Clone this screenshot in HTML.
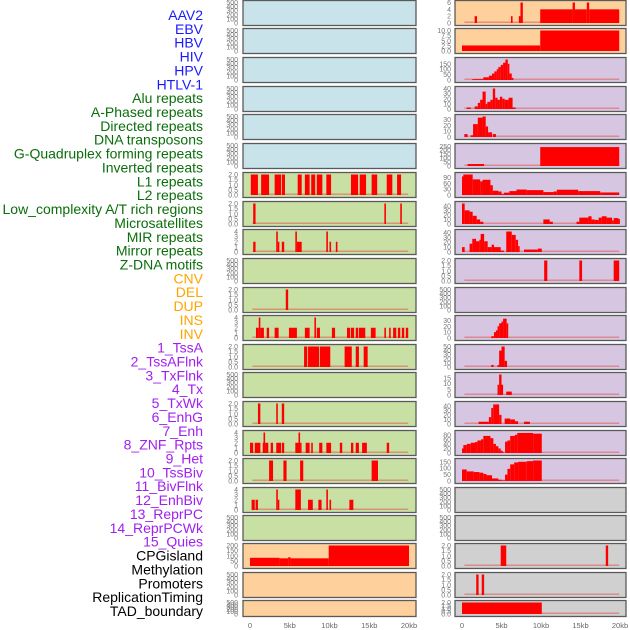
<!DOCTYPE html>
<html><head><meta charset="utf-8">
<style>
html,body{margin:0;padding:0;background:#fff;}
svg{display:block;font-family:"Liberation Sans",sans-serif;}
</style></head>
<body>
<svg id="chart" width="630" height="630" viewBox="0 0 630 630"></svg>
<script>
const labels = ["AAV2","EBV","HBV","HIV","HPV","HTLV-1","Alu repeats","A-Phased repeats","Directed repeats","DNA transposons","G-Quadruplex forming repeats","Inverted repeats","L1 repeats","L2 repeats","Low_complexity A/T rich regions","Microsatellites","MIR repeats","Mirror repeats","Z-DNA motifs","CNV","DEL","DUP","INS","INV","1_TssA","2_TssAFlnk","3_TxFlnk","4_Tx","5_TxWk","6_EnhG","7_Enh","8_ZNF_Rpts","9_Het","10_TssBiv","11_BivFlnk","12_EnhBiv","13_ReprPC","14_ReprPCWk","15_Quies","CPGisland","Methylation","Promoters","ReplicationTiming","TAD_boundary"];
const labelGroups = [6,13,5,15,5];
const groupColors = ["#1a1aff","#0a6e0a","#ffa500","#a020f0","#000000"];
const xTicks = [0,5,10,15,20];
const xTickLabels = ["0","5kb","10kb","15kb","20kb"];
const leftBg = ["b","b","b","b","b","b","g","g","g","g","g","g","g","g","g","g","g","g","g","p","p","p"];
const rightBg = ["p","p","l","l","l","l","l","l","l","l","l","l","l","l","l","l","l","y","y","y","y","y"];
const leftMax = [500,500,500,500,500,500,2,2,4,500,2,4,2,500,2,4,2,4,500,200,500,500];
const rightMax = [6,10,190,40,35,260,105,45,42,2,500,35,50,18,45,90,160,500,500,2,2,2];
const leftTicks = [[0,100,200,300,400,500],[0,100,200,300,400,500],[0,100,200,300,400,500],[0,100,200,300,400,500],[0,100,200,300,400,500],[0,100,200,300,400,500],[0,0.5,1,1.5,2],[0,0.5,1,1.5,2],[0,1,2,3,4],[0,100,200,300,400,500],[0,0.5,1,1.5,2],[0,1,2,3,4],[0,0.5,1,1.5,2],[0,100,200,300,400,500],[0,0.5,1,1.5,2],[0,1,2,3,4],[0,0.5,1,1.5,2],[0,1,2,3,4],[0,100,200,300,400,500],[0,50,100,150,200],[0,100,200,300,400,500],[0,100,200,300,400,500]];
const rightTicks = [[0,2,4,6],[0,2.5,5,7.5,10],[0,50,100,150],[0,10,20,30,40],[0,10,20,30],[0,50,100,150,200,250],[0,30,60,90],[0,10,20,30,40],[0,10,20,30,40],[0,0.5,1,1.5,2],[0,100,200,300,400,500],[0,10,20,30],[0,10,20,30,40,50],[0,5,10,15],[0,10,20,30,40],[0,20,40,60,80],[0,50,100,150],[0,100,200,300,400,500],[0,100,200,300,400,500],[0,0.5,1,1.5,2],[0,0.5,1,1.5,2],[0,0.5,1,1.5,2]];
const leftSegs = [[],[],[],[],[],[],
[[0.1,1,2],[1.4,2.4,2],[3.1,3.9,2],[4,4.4,2],[6,6.5,2],[6.9,7.5,2],[7.7,8.2,2],[8.4,9.1,2],[9.6,10.2,2],[12.7,13.6,2],[13.8,14.6,2],[15.3,16,2],[17.2,17.9,2],[18.5,19,2]],
[[0.4,0.7,2],[16.9,17.1,2],[18.9,19.1,2]],
[[0.4,0.7,2],[3.3,3.5,4],[3.5,3.6,2],[4,4.3,2],[5.7,5.9,4],[5.9,6.5,2],[9.6,9.8,4],[10,10.2,2],[10.8,11,2]],
[],
[[4.5,4.8,2]],
[[0.75,1.1,2],[1.1,1.3,4],[1.3,1.75,2],[2.1,2.4,2],[3.1,3.6,2],[4.9,5.9,2],[6.9,7.5,2],[8.1,8.3,4],[8.4,8.8,2],[10.3,10.7,2],[12.2,12.6,2],[12.7,13.1,2],[13.3,13.6,2],[13.7,14.5,2],[15.2,15.8,2],[16.9,17.1,2],[17.5,17.7,2],[18,18.4,2],[18.6,18.9,2],[19.1,19.4,2],[19.6,19.9,2]],
[[6.8,7.2,2],[7.3,8.7,2],[8.8,10.1,2],[11.9,12.8,2],[13.3,13.7,2],[14.3,14.8,2]],
[],
[[1,1.3,2],[3.3,3.5,2],[4,4.3,2]],
[[0,0.4,2],[0.6,1.3,2],[1.6,1.7,2],[1.7,1.9,4],[1.9,2.3,2],[2.6,2.9,2],[3.3,3.9,2],[4,4.3,2],[5.7,6.1,2],[6.1,6.3,4],[6.3,6.4,2],[7,7.5,2],[7.7,7.9,2],[8.7,9.1,2],[9.6,10.2,2],[11.3,11.6,2],[12.7,13,2],[13.3,13.7,2],[14.1,14.7,2],[17.2,17.5,2]],
[[2.4,2.9,2],[4.2,4.6,2],[6.3,6.7,2],[15.3,16.1,2]],
[[0.2,0.6,2],[0.7,1,2],[3.3,3.5,4],[3.5,3.6,2],[5.7,6.4,4],[7.3,7.9,2],[8.6,9,2],[9.6,9.8,4],[10,10.2,2],[12.5,13,2]],
[],
[[0,3.7,80],[3.7,4.8,75],[4.8,5.1,85],[5.1,9.9,75],[9.9,20,200]],
[],[]];
const rightSegs = [
[[1.6,1.9,2],[6.2,6.4,2],[7.2,7.4,2],[7.4,7.7,6],[9.9,14,4],[14,14.3,6],[14.3,15.8,4],[15.8,16.1,6],[16.1,19.9,4]],
[[0,9.9,2.7],[9.9,19.9,10]],
[[1.3,2.7,8],[2.7,3.4,25],[3.4,3.8,40],[3.8,4.1,60],[4.1,4.4,80],[4.4,4.6,100],[4.6,4.9,120],[4.9,5.2,140],[5.2,5.5,160],[5.5,5.8,190],[5.8,6.0,150],[6.0,6.3,60],[6.3,6.5,20]],
[[0.6,1.1,3],[1.6,2,5],[2,2.3,12],[2.3,2.6,18],[2.6,3,34],[3,3.2,10],[3.2,3.6,14],[3.6,3.9,18],[3.9,4.2,40],[4.2,4.5,22],[4.5,4.8,18],[4.8,5.1,24],[5.1,5.4,20],[5.4,5.9,18],[5.9,6.4,22],[6.4,6.8,3]],
[[0.3,0.7,5],[1.1,1.4,3],[1.4,2,22],[2,2.6,33],[2.6,3,35],[3,3.3,18],[3.3,3.8,8],[3.9,4.3,5]],
[[0.7,2.8,25],[9.9,19.9,240]],
[[0,0.17,95],[0.17,1.35,105],[1.35,2.3,80],[2.3,2.6,70],[2.6,3.6,78],[3.6,3.9,50],[3.9,4.6,22],[4.6,5,18],[5,5.3,5],[5.3,6,12],[6,6.9,20],[6.9,8.2,28],[8.2,10.3,25],[10.3,11.6,15],[11.6,12,18],[12,14.7,27],[14.7,17.5,20],[17.5,19.9,13]],
[[0,0.34,45],[0.34,0.96,30],[0.96,1.35,27],[1.35,1.86,18],[1.86,2.3,10],[2.3,2.7,5],[10.3,11.1,10],[11.1,11.5,5],[14.5,14.85,5],[14.85,16,14],[16,16.4,17],[16.4,16.8,10],[16.8,17.3,9],[17.3,17.7,14],[17.7,18.3,17],[18.3,19,14],[19,19.2,8],[19.2,19.8,13],[19.8,19.9,11]],
[[0,0.34,10],[0.96,1.3,17],[1.3,1.77,27],[1.77,2.2,22],[2.2,2.36,25],[2.36,2.8,37],[2.8,3.25,22],[3.25,3.75,10],[3.75,4.05,15],[4.05,4.9,10],[4.9,5.3,3],[5.6,6.3,42],[6.3,6.8,35],[6.8,7.1,25],[7.1,7.3,12],[7.85,9.6,5],[9.6,10.1,7]],
[[10.4,10.8,2],[14.85,15.2,2],[19.2,19.9,2]],
[],
[[3.7,4.05,3],[4.05,4.3,10],[4.3,4.5,13],[4.5,4.7,20],[4.7,5,25],[5,5.2,28],[5.2,5.65,33],[5.65,5.85,25]],
[[3.7,4,5],[4.5,4.7,5],[4.7,5,40],[5,5.4,50],[5.4,5.7,15]],
[[4.5,4.7,9],[4.7,5,18],[5,5.2,9],[5.6,6.3,3]],
[[2.1,3.4,5],[3.4,3.7,15],[3.7,3.95,35],[3.95,4.7,43],[4.7,5,20],[5.4,6.1,12],[6.1,6.7,10],[6.7,7.1,6],[7.85,8.6,5]],
[[0,0.17,20],[0.17,0.6,35],[0.6,1.1,40],[1.1,1.65,45],[1.65,1.95,48],[1.95,2.4,55],[2.4,2.7,60],[2.7,3.6,75],[3.6,3.97,65],[3.97,4.3,40],[4.3,4.6,30],[4.6,4.9,20],[4.9,5.15,10],[5.15,5.35,3],[5.45,5.75,50],[5.75,6.1,55],[6.1,6.7,75],[6.7,7,80],[7,9,88],[9,10.1,85]],
[[0,0.6,90],[0.6,1.5,75],[1.5,2.2,70],[2.2,2.7,65],[2.7,3.1,55],[3.1,3.8,45],[3.8,4.6,20],[4.6,5,10],[5,5.45,5],[5.45,5.75,50],[5.75,6.1,95],[6.1,6.6,130],[6.6,7.1,145],[7.1,8.2,150],[8.2,9,155],[9,10.1,160]],
[],[],
[[4.9,5.6,2],[18.2,18.5,2]],
[[1.8,2.1,2],[2.5,2.8,2]],
[[0,10.1,2]]];
const rowTops = [0,28,57,86,114,143,172,201,229,258,287,315,344,372,401,430,458,487,515,543,572,600];
const bgColors = {b:"#c8e3ea",g:"#c8e0a4",p:"#fdd09c",l:"#d6c6e2",y:"#d0d0d0"};
const NS = "http://www.w3.org/2000/svg";
const svg = document.getElementById("chart");
function mk(tag, attrs, parent){const e=document.createElementNS(NS,tag);for(const k in attrs)e.setAttribute(k,attrs[k]);(parent||svg).appendChild(e);return e;}
// labels
let idx=0;
labelGroups.forEach((n,g)=>{for(let i=0;i<n;i++){const t=mk("text",{x:203,y:15+idx*13.86+5,"text-anchor":"end","font-size":"14",fill:groupColors[g]});t.textContent=labels[idx];


idx++;}});
const cols = [{x0:243,x1:416,z:250,k:7.95,tickX:238,bg:leftBg,max:leftMax,ticks:leftTicks,segs:leftSegs,name:"left"},
              {x0:455,x1:626,z:462,k:7.9,tickX:451,bg:rightBg,max:rightMax,ticks:rightTicks,segs:rightSegs,name:"right"}];
function fmt(v,ticks){const dec=ticks.some(t=>t%1!==0);return dec?(ticks.some(t=>(t*10)%1!==0)?v.toFixed(1):v.toFixed(1)):String(v);}
cols.forEach(c=>{
  const xs = kb=>c.z+kb*c.k;
  rowTops.forEach((top,r)=>{
    const h = r===21?16:25;
    const g = mk("g",{});
    
    
    mk("rect",{x:c.x0,y:top+0.5,width:c.x1-c.x0,height:h,fill:bgColors[c.bg[r]],stroke:"#5a5a5a","stroke-width":"1.3"},g);
    const yTop=top+2.5, yBot=top+h-2;
    const ys = v=>yBot-(v/c.max[r])*(yBot-yTop);
    const segs=c.segs[r];
    if(segs.length){
      mk("rect",{x:xs(0.3),y:yBot-1.5,width:xs(19.9)-xs(0.3),height:1.5,fill:"#e06060",opacity:"0.6"},g);
    }
    segs.forEach(s=>{
      const b=mk("rect",{x:xs(s[0]),y:ys(s[2]),width:Math.max(1.5,xs(s[1])-xs(s[0])),height:yBot-ys(s[2]),fill:"#ff0000"},g);
      
      
    });
    const tk=c.ticks[r];
    tk.forEach(v=>{
      const t=mk("text",{x:c.tickX,y:ys(v)+2.5,"text-anchor":"end","font-size":"7",fill:"#777"},g);
      t.textContent=fmt(v,tk);
      
      
    });
  });
  xTicks.forEach((v,i)=>{
    const t=mk("text",{x:xs(v),y:628,"text-anchor":"middle","font-size":"7.5",fill:"#666"});
    t.textContent=xTickLabels[i];
    
    
  });
});
</script>
</body></html>
